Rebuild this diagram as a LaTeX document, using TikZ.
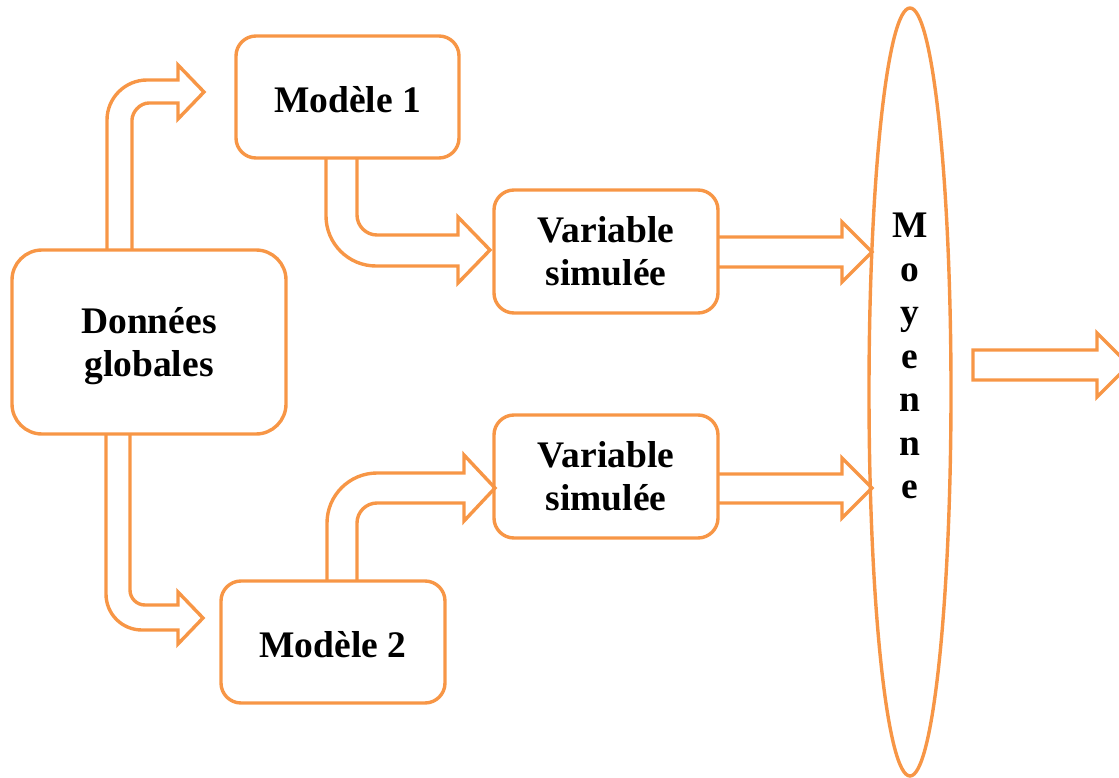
\documentclass[tikz,border=0pt]{standalone}
\usepackage{fontspec}
\setmainfont{Liberation Serif}
\usetikzlibrary{shapes.geometric}
\definecolor{org}{HTML}{F79646}
\begin{document}
\begin{tikzpicture}[x=1pt,y=-1pt,
  box/.style={draw=org, line width=3.4pt, rounded corners=20pt, inner sep=0pt, outer sep=0pt, align=center, font=\fontsize{37.5}{43}\selectfont\bfseries},
  barrow/.style={draw=org, line width=3.4pt, line join=miter}]
\useasboundingbox (0,0) rectangle (1119,778);
% boxes
\node[box, rounded corners=30pt, minimum width=274pt, minimum height=184pt] (don) at (149,342) {Données\\\smash{globales}};
\node[box, minimum width=223pt, minimum height=122pt] (m1) at (347.5,97) {\rule{0pt}{32pt}Modèle 1};
\node[box, minimum width=224pt, minimum height=123pt] (v1) at (606,251.5) {Variable\\simulée};
\node[box, minimum width=224pt, minimum height=123pt] (v2) at (606,476.5) {Variable\\simulée};
\node[box, minimum width=224pt, minimum height=122pt] (m2) at (333,642) {\rule{0pt}{32pt}Modèle 2};
\node[draw=org, line width=3.4pt, ellipse, minimum width=82pt, minimum height=768pt, inner sep=0pt, outer sep=0pt] (moy) at (910,392) {};
\node[align=center, inner sep=0pt, font=\fontsize{37.5}{43.5}\selectfont\bfseries] (moyt) at (910,356) {M\\o\\y\\e\\n\\n\\e};
% block arrows
\draw[barrow] (107,0 |- don.north) -- (107,120) .. controls (107,98) and (125,80) .. (147,80) -- (178,80) -- (178,65) -- (204,92) -- (178,119) -- (178,103) -- (149,103) .. controls (139.6,103) and (132,112.4) .. (132,120) -- (132,0 |- don.north);
\draw[barrow] (m1.south -| 326,0) -- (326,216) .. controls (326,243.6) and (348.4,266) .. (376,266) -- (458,266) -- (458,283) -- (490,250) -- (458,217) -- (458,235) -- (377,235) .. controls (366,235) and (357,226) .. (357,215) -- (m1.south -| 357,0);
\draw[barrow] (106,0 |- don.south) -- (106,594) .. controls (106,614) and (122,630) .. (142,630) -- (178,630) -- (178,644) -- (203,618) -- (178,592) -- (178,605) -- (145,605) .. controls (136.7,605) and (130,598.3) .. (130,590) -- (130,0 |- don.south);
\draw[barrow] (327,0 |- m2.north) -- (327,523) .. controls (327,495.4) and (349.4,473) .. (377,473) -- (464,473) -- (464,455) -- (495,488) -- (464,521) -- (464,503) -- (377,503) .. controls (366,503) and (357,512) .. (357,523) -- (357,0 |- m2.north);
\draw[barrow] (v1.east |- 0,237) -- (842,237) -- (842,222) -- (872,252) -- (842,282) -- (842,267) -- (v1.east |- 0,267);
\draw[barrow] (v2.east |- 0,474) -- (842,474) -- (842,458) -- (872,488) -- (842,518) -- (842,503) -- (v2.east |- 0,503);
\draw[barrow] (973,350) -- (1097,350) -- (1097,333) -- (1129,365) -- (1097,397) -- (1097,380) -- (973,380) -- cycle;
\end{tikzpicture}
\end{document}
